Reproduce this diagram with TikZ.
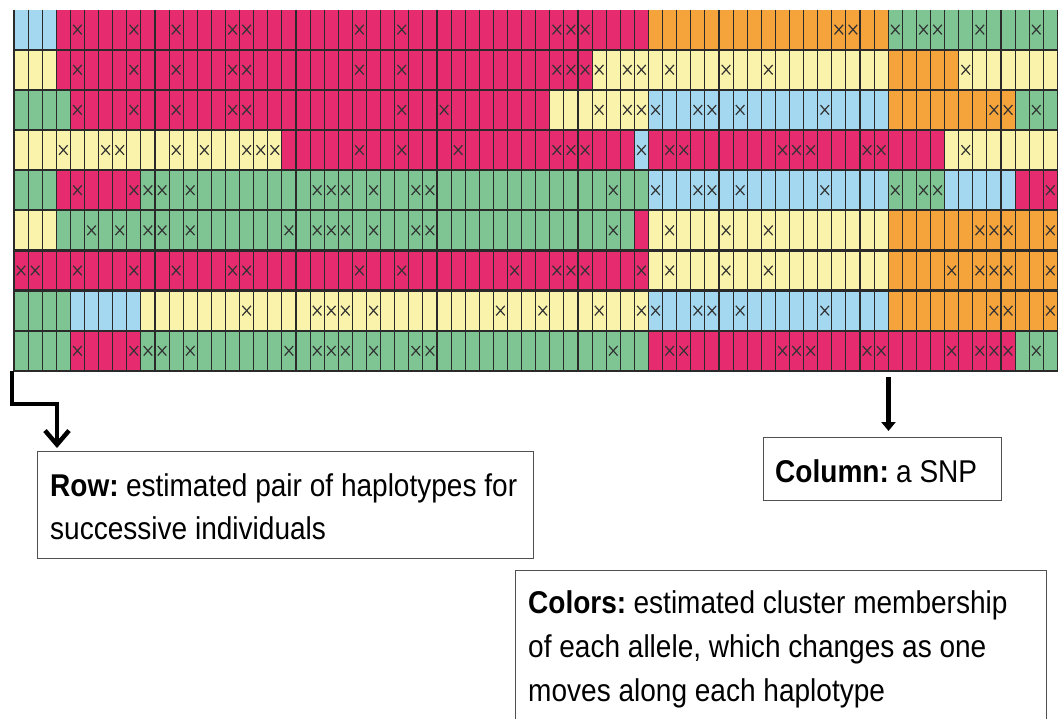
\documentclass[tikz,border=0pt]{standalone}
\usepackage{fontspec}
\setmainfont{Liberation Sans}
\usetikzlibrary{arrows.meta}
\definecolor{cP}{HTML}{E62B6F}
\definecolor{cB}{HTML}{A4D8F0}
\definecolor{cY}{HTML}{FAF3AB}
\definecolor{cG}{HTML}{7EC593}
\definecolor{cO}{HTML}{F5A33B}
\definecolor{gridln}{HTML}{2A2A2A}
\definecolor{xmk}{HTML}{333333}
\definecolor{boxln}{HTML}{505050}
\newcommand{\lbl}[1]{\scalebox{0.89}[1]{#1}}
\newcommand{\hd}[1]{\textbf{#1}\hspace{0.26em}}
\tikzset{
  xmark/.style={draw=xmk, line width=1.2pt},
  vline/.style={draw=gridln, line width=1.1pt},
  hline/.style={draw=gridln, line width=2.2pt},
  labelbox/.style={draw=boxln, line width=1.3pt, fill=white, inner sep=0pt},
  labeltext/.style={font=\fontsize{31.5}{36}\selectfont, inner sep=0pt, anchor=base west},
  leftarrow/.style={line width=4.5pt, -{Straight Barb[length=14pt,width=24pt]}, shorten >=3pt},
  downarrow/.style={line width=5pt, -{Triangle[length=9pt,width=14pt]}, shorten >=6pt},
}
\begin{document}
\begin{tikzpicture}[x=1pt,y=-1pt]
\useasboundingbox (0,0) rectangle (1058,718);
\clip (0,0) rectangle (1058,718);
% cell fills
\foreach \r/\segs in {%
 1/{0/2/cB,3/44/cP,45/61/cO,62/73/cG},%
 2/{0/2/cY,3/40/cP,41/61/cY,62/66/cO,67/73/cY},%
 3/{0/3/cG,4/37/cP,38/44/cY,45/61/cB,62/70/cO,71/73/cG},%
 4/{0/18/cY,19/43/cP,44/44/cB,45/65/cP,66/73/cY},%
 5/{0/2/cG,3/8/cP,9/44/cG,45/61/cB,62/65/cG,66/70/cB,71/73/cP},%
 6/{0/2/cY,3/43/cG,44/44/cP,45/61/cY,62/73/cO},%
 7/{0/44/cP,45/61/cY,62/73/cO},%
 8/{0/3/cG,4/8/cB,9/44/cY,45/61/cB,62/73/cO},%
 9/{0/3/cG,4/8/cP,9/44/cG,45/70/cP,71/73/cG}}{%
  \foreach \a/\b/\c in \segs {
    \fill[\c] ({14+\a*14.1},{9.5+(\r-1)*40.15}) rectangle ({14+(\b+1)*14.1},{9.5+\r*40.15});
  }
}
% grid lines
\foreach \c in {0,...,74} \draw[vline] ({14+\c*14.1},9.5) -- ({14+\c*14.1},370.85);
\foreach \r in {1,...,9} \draw[hline] (13,{9.5+\r*40.15}) -- (1058,{9.5+\r*40.15});
% x marks
\foreach \r/\xs in {%
 1/{4,8,11,15,16,24,27,38,39,40,58,59,62,64,65,68,72},%
 2/{4,8,11,15,16,24,27,38,39,40,41,43,44,46,50,53,67},%
 3/{4,8,11,15,16,27,30,41,43,44,45,48,49,51,57,69,70,72},%
 4/{3,6,7,11,13,16,17,18,24,27,31,38,39,40,44,46,47,54,55,56,60,61,67},%
 5/{4,8,9,10,12,21,22,23,25,28,29,42,45,48,49,51,57,62,64,65,73},%
 6/{5,7,9,10,12,19,21,22,23,25,28,29,42,46,50,53,68,69,70,73},%
 7/{0,1,4,8,11,15,16,24,27,35,38,39,40,44,46,50,53,66,68,69,70,73},%
 8/{16,21,22,23,25,34,37,41,44,45,48,49,51,57,69,70,73},%
 9/{4,8,9,10,12,19,21,22,23,25,28,29,42,46,47,54,55,56,60,61,66,68,69,70,72}}{%
  \foreach \c in \xs {
    \path ({14+(\c+0.5)*14.1},{9.5+(\r-0.5)*40.15}) coordinate (m);
    \draw[xmark] ([shift={(-4.3,-4.8)}]m) -- ([shift={(4.3,4.8)}]m)
                 ([shift={(-4.3,4.8)}]m) -- ([shift={(4.3,-4.8)}]m);
  }
}
% label boxes
\node[labelbox, minimum width=496pt, minimum height=107pt, anchor=north west] (rowbox) at (37,451) {};
\node[labeltext] (rowt1) at (50,496) {\lbl{\hd{Row:}estimated pair of haplotypes for}};
\node[labeltext] (rowt2) at (50,539) {\lbl{successive individuals}};

\node[labelbox, minimum width=238pt, minimum height=63pt, anchor=north west] (colbox) at (763,437) {};
\node[labeltext] (colt) at (775,482) {\lbl{\hd{Column:}a SNP}};

\node[labelbox, minimum width=531pt, minimum height=170pt, anchor=north west] (colorbox) at (515,570) {};
\node[labeltext] (colort1) at (528,613) {\lbl{\hd{Colors:}estimated cluster membership}};
\node[labeltext] (colort2) at (528,657) {\lbl{of each allele, which changes as one}};
\node[labeltext] (colort3) at (528,701) {\lbl{moves along each haplotype}};

% arrows
\coordinate (rowstart) at (12,371);
\draw[leftarrow] (rowstart) -- ++(0,33) -| ([xshift=20pt]rowbox.north west);
\coordinate (snp) at (888.5,377);
\draw[downarrow] (snp) -- (snp |- colbox.north);
\end{tikzpicture}
\end{document}
